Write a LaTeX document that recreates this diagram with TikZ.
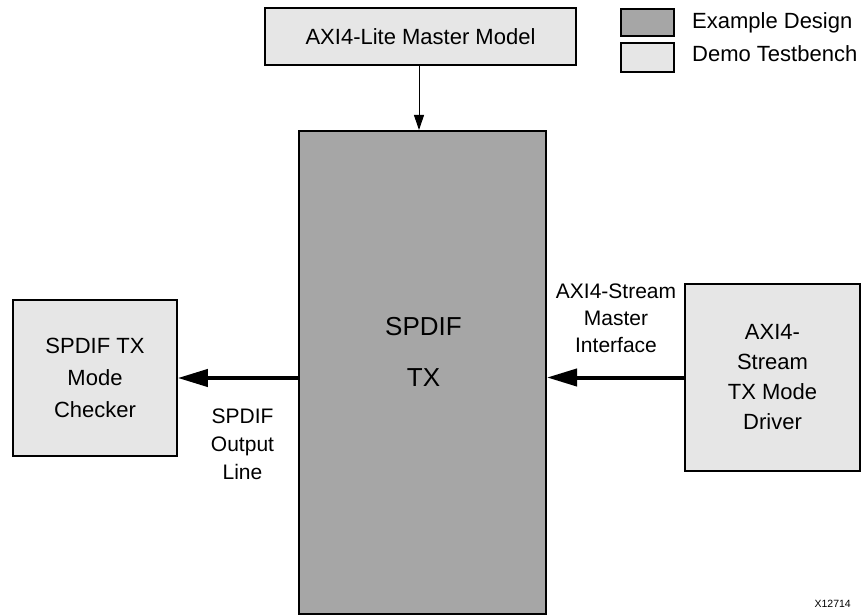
\documentclass[tikz,border=0pt]{standalone}
\usepackage{fontspec}
\setmainfont{Liberation Sans}
\usetikzlibrary{arrows.meta}
\definecolor{darkfill}{RGB}{166,166,166}
\definecolor{lightfill}{RGB}{230,230,230}
\begin{document}
\begin{tikzpicture}[x=1pt,y=-1pt,
  blk/.style={draw=black,line width=1.6pt,inner sep=0pt,align=center,
    font=\fontsize{22}{30}\selectfont},
  lbl/.style={inner sep=0pt,align=center,font=\fontsize{21}{28}\selectfont},
  thin arrow/.style={line width=1pt,-{Triangle[length=15pt,width=10pt]}},
  thick arrow/.style={line width=4pt,-{Triangle[length=30pt,width=17pt]}}
]
\useasboundingbox (0,0) rectangle (862,615);
% blocks
\node[blk,fill=lightfill,minimum width=311pt,minimum height=57pt] (master) at (420.5,36.5) {AXI4-Lite Master Model};
\node[blk,fill=darkfill,line width=2pt,minimum width=247pt,minimum height=483pt] (spdif) at (422.5,372.5) {};
\node[inner sep=0pt,align=center,font=\fontsize{26}{51}\selectfont] (spdiftxt) at (423.5,352) {SPDIF\\TX};
\node[blk,fill=lightfill,minimum width=164pt,minimum height=156pt,font=\fontsize{22}{32}\selectfont] (checker) at (95,378) {SPDIF TX\\Mode\\Checker};
\node[blk,fill=lightfill,minimum width=175pt,minimum height=187pt] (driver) at (772.5,377.5) {AXI4-\\Stream\\TX Mode\\Driver};
% connectors
\draw[thin arrow] (master.south -| 419,0) -- (spdif.north -| 419,0);
\draw[thick arrow] (spdif.west |- checker) -- (checker.east);
\draw[thick arrow] (driver.west) -- (driver.west -| spdif.east);
% connector labels
\node[lbl] (outlbl) at (242.5,444) {SPDIF\\Output\\Line};
\node[lbl,font=\fontsize{21}{27}\selectfont] (inlbl) at (616,318) {AXI4-Stream\\Master\\Interface};
% legend
\node[blk,fill=darkfill,minimum width=53pt,minimum height=27pt] (legA) at (647.5,22.5) {};
\node[blk,fill=lightfill,minimum width=53pt,minimum height=29pt] (legB) at (647.5,57.5) {};
\node[anchor=base west,inner sep=0pt,font=\fontsize{22}{26}\selectfont] (legAtxt) at (692,29) {Example Design};
\node[anchor=base west,inner sep=0pt,font=\fontsize{22}{26}\selectfont] (legBtxt) at (692,62) {Demo Testbench};
% figure id
\node[anchor=base east,inner sep=0pt,font=\fontsize{10.5}{12}\selectfont] (figid) at (851,607) {X12714};
\end{tikzpicture}
\end{document}
